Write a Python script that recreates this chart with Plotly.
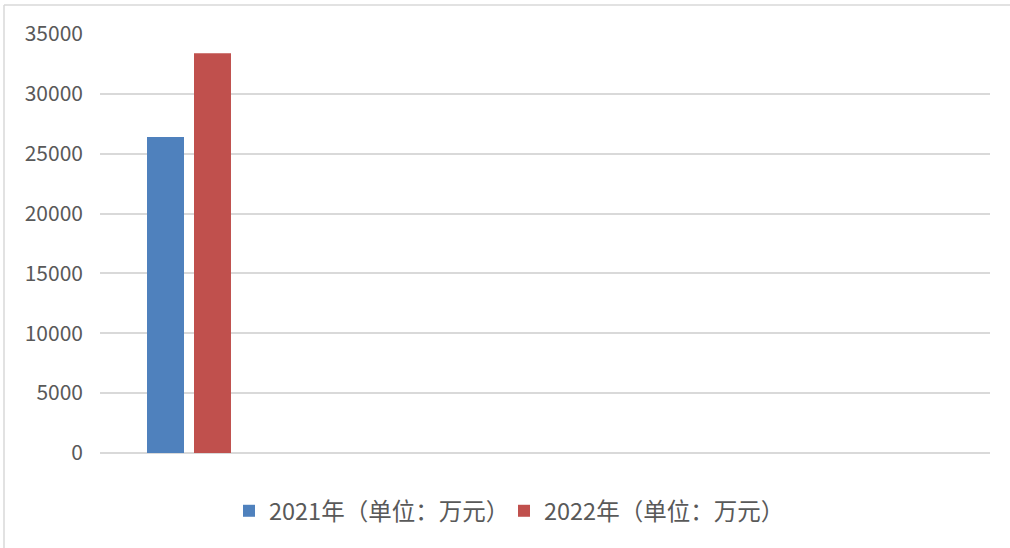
import plotly.graph_objects as go

categories = [0, 1, 2, 3, 4]
series_2021 = [26400, None, None, None, None]
series_2022 = [33400, None, None, None, None]
name_2021 = "2021年（单位：万元）"
name_2022 = "2022年（单位：万元）"
y_ticks = [0, 5000, 10000, 15000, 20000, 25000, 30000, 35000]

font_family = "Noto Sans CJK SC, Noto Sans, sans-serif"
text_color = "#595959"
grid_color = "#d9d9d9"

fig = go.Figure()
fig.add_trace(go.Bar(x=categories, y=series_2021, name=name_2021,
                     marker=dict(color="#4f81bd", line=dict(width=0))))
fig.add_trace(go.Bar(x=categories, y=series_2022, name=name_2022,
                     marker=dict(color="#c0504d", line=dict(width=0))))

H, W = 548, 1010
ml, mr, mt, mb = 100, 20, 34, 95
pw = W - ml - mr
ph = H - mt - mb

fig.update_layout(
    width=W, height=H,
    margin=dict(l=ml, r=mr, t=mt, b=mb),
    paper_bgcolor="white", plot_bgcolor="white",
    barmode="group", bargap=0.472, bargroupgap=0.213,
    font=dict(family=font_family, size=21, color=text_color),
    showlegend=True,
    legend=dict(orientation="h", xref="container", yref="container",
                x=0.499, xanchor="center", y=1 - 511 / H, yanchor="middle",
                font=dict(size=23.5, color=text_color), itemwidth=30,
                entrywidth=230, traceorder="normal"),
    xaxis=dict(type="linear", range=[-0.5, 4.5], showticklabels=False,
               showgrid=False, zeroline=False, showline=False, ticks=""),
    yaxis=dict(range=[0, 35000], tickvals=y_ticks,
               ticktext=[str(v) for v in y_ticks], showgrid=True,
               gridcolor=grid_color, gridwidth=1.5, zeroline=True,
               zerolinecolor=grid_color, zerolinewidth=1.5, showline=False,
               ticks="", ticklabelstandoff=16,
               tickfont=dict(size=21, color=text_color)),
    shapes=[
        dict(type="line", xref="paper", yref="paper",
             x0=(4 - ml) / pw, x1=(W + 10 - ml) / pw,
             y0=(H - mb - 5) / ph, y1=(H - mb - 5) / ph,
             line=dict(color=grid_color, width=1.5)),
        dict(type="line", xref="paper", yref="paper",
             x0=(4 - ml) / pw, x1=(4 - ml) / pw,
             y0=(H - mb - 5) / ph, y1=-(mb + 10) / ph,
             line=dict(color=grid_color, width=1.5)),
    ],
)

fig.write_html("out.html", config={"displayModeBar": False},
               post_script="document.body.style.margin='0px';")
